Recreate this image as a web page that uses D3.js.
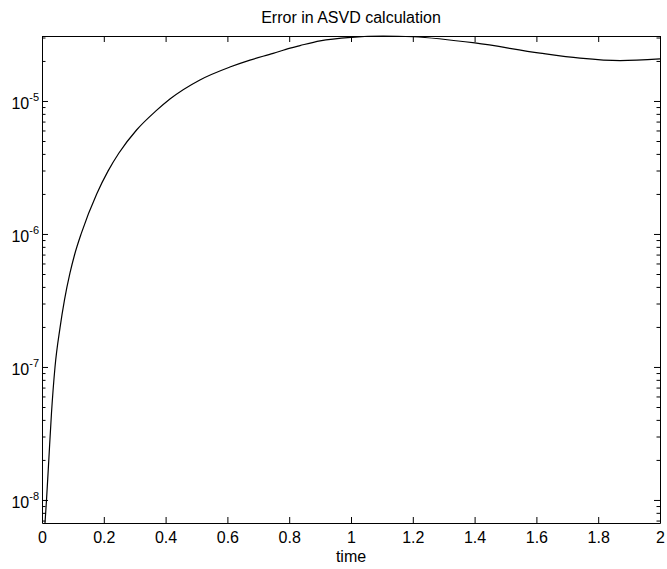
<!DOCTYPE html>
<html>
<head>
<meta charset="utf-8">
<script src="https://cdn.jsdelivr.net/npm/d3@7"></script>
<style>
  body { margin: 0; background: #fff; }
  svg text { font-family: "Liberation Sans", Arial, Helvetica, sans-serif; fill: #000; }
</style>
</head>
<body>
<div class="chart"></div>
<script>
// values
const times = [0.0097, 0.0146, 0.0220, 0.0307, 0.0421, 0.0583, 0.0728, 0.0906, 0.1052, 0.1278,
  0.177, 0.214, 0.249, 0.306, 0.366, 0.414, 0.511, 0.608, 0.673, 0.748, 0.803, 0.835, 0.900,
  1.002, 1.104, 1.201, 1.401, 1.612, 1.741, 1.871, 2.0];
const errors = [6.71e-9, 1.0e-8, 2.0e-8, 4.5e-8, 1.0e-7, 1.97e-7, 3.19e-7, 5.09e-7, 6.95e-7, 1.02e-6,
  2.0e-6, 2.98e-6, 4.06e-6, 6.05e-6, 8.31e-6, 1.035e-5, 1.44e-5, 1.80e-5, 2.03e-5, 2.28e-5, 2.50e-5, 2.61e-5, 2.83e-5,
  3.01e-5, 3.08e-5, 3.04e-5, 2.73e-5, 2.29e-5, 2.10e-5, 2.01e-5, 2.07e-5];
const xTicks = [0, 0.2, 0.4, 0.6, 0.8, 1, 1.2, 1.4, 1.6, 1.8, 2];
const yMajor = [1e-8, 1e-7, 1e-6, 1e-5];
const yExp = ['-8', '-7', '-6', '-5'];

const data = times.map((t, i) => ({ t: t, e: errors[i] }));

const w = 667;
const h = 569;
const margin = { top: 36, right: 7, bottom: 46, left: 42 };

const svg = d3.select('.chart')
  .append('svg')
  .attr('width', w)
  .attr('height', h);

const x = d3.scaleLinear()
  .domain([0, 2])
  .range([margin.left, w - margin.right]);

const y = d3.scaleLog()
  .domain([d3.min(errors), d3.max(errors)])
  .range([h - margin.bottom, margin.top]);

// minor log ticks (2..9 of each decade) that fall inside the domain
const yMinor = y.ticks().filter(v => yMajor.indexOf(v) < 0);

const fmt = d3.format('~g');

// bottom axis with labels
svg.append('g')
  .attr('transform', 'translate(0,' + (h - margin.bottom) + ')')
  .call(d3.axisBottom(x).tickValues(xTicks).tickFormat(fmt).tickSizeInner(-6).tickSizeOuter(0).tickPadding(9))
  .call(g => g.selectAll('text').style('font-size', '16px'));

// top axis, ticks only
svg.append('g')
  .attr('transform', 'translate(0,' + margin.top + ')')
  .call(d3.axisTop(x).tickValues(xTicks).tickFormat('').tickSizeInner(-6).tickSizeOuter(0));

// left axis: major ticks with 10^n labels
svg.append('g')
  .attr('transform', 'translate(' + margin.left + ',0)')
  .call(d3.axisLeft(y).tickValues(yMajor).tickFormat('').tickSizeInner(-6).tickSizeOuter(0))
  .call(g => g.selectAll('.tick').each(function (d, i) {
    const t = d3.select(this).append('text')
      .attr('x', -3)
      .attr('y', 7.5)
      .attr('text-anchor', 'end')
      .style('font-size', '16px');
    t.append('tspan').text('10');
    t.append('tspan').attr('dy', -8.4).style('font-size', '11px').text(yExp[i]);
  }));

svg.append('g')
  .attr('transform', 'translate(' + margin.left + ',0)')
  .call(d3.axisLeft(y).tickValues(yMinor).tickFormat('').tickSizeInner(-3.5).tickSizeOuter(0))
  .call(g => g.select('.domain').remove());

// right axis, ticks only
svg.append('g')
  .attr('transform', 'translate(' + (w - margin.right) + ',0)')
  .call(d3.axisRight(y).tickValues(yMajor).tickFormat('').tickSizeInner(-6).tickSizeOuter(0));

svg.append('g')
  .attr('transform', 'translate(' + (w - margin.right) + ',0)')
  .call(d3.axisRight(y).tickValues(yMinor).tickFormat('').tickSizeInner(-3.5).tickSizeOuter(0))
  .call(g => g.select('.domain').remove());

svg.selectAll('.domain').attr('stroke', '#000');
svg.selectAll('.tick line').attr('stroke', '#000');

// error curve
svg.append('path')
  .datum(data)
  .attr('fill', 'none')
  .attr('stroke', '#000')
  .attr('stroke-width', 1.2)
  .attr('d', d3.line()
    .x(d => x(d.t))
    .y(d => y(d.e))
    .curve(d3.curveMonotoneX));

// titles
svg.append('text')
  .attr('x', (margin.left + w - margin.right) / 2)
  .attr('y', 23)
  .attr('text-anchor', 'middle')
  .style('font-size', '16px')
  .text('Error in ASVD calculation');

svg.append('text')
  .attr('x', (margin.left + w - margin.right) / 2)
  .attr('y', 561.5)
  .attr('text-anchor', 'middle')
  .style('font-size', '16px')
  .text('time');
</script>
</body>
</html>
